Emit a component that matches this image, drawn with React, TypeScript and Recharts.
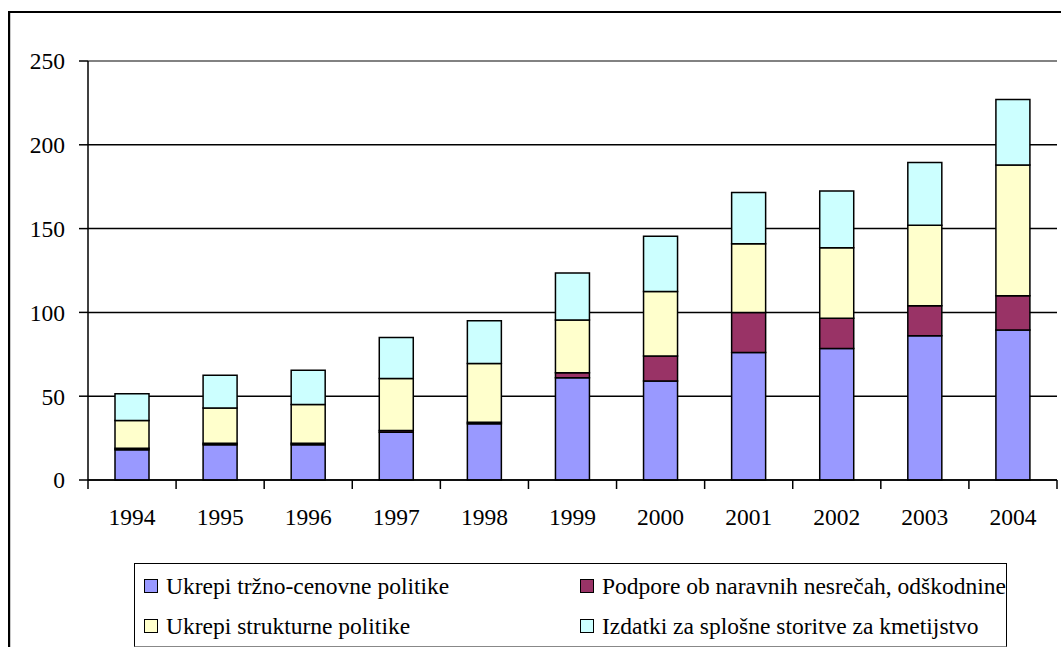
import React from "react";
import { BarChart, Bar, XAxis, YAxis, CartesianGrid, Legend, ReferenceLine } from "recharts";

const years = ["1994", "1995", "1996", "1997", "1998", "1999", "2000", "2001", "2002", "2003", "2004"];
const trznoCenovne = [18, 21, 21, 28.5, 33.5, 61, 59, 76, 78.5, 86, 89.5];
const podpore = [1, 1, 1, 1, 1, 3, 15, 24, 18, 18, 20.5];
const strukturne = [16.5, 21, 23, 31, 35, 31.5, 38.5, 41, 42, 48, 78];
const izdatki = [16, 19.5, 20.5, 24.5, 25.5, 28, 33, 30.5, 34, 37.5, 39];
const yTicks = [0, 50, 100, 150, 200, 250];

const seriesNames = {
  a: "Ukrepi tržno-cenovne politike",
  b: "Podpore ob naravnih nesrečah, odškodnine",
  c: "Ukrepi strukturne politike",
  d: "Izdatki za splošne storitve za kmetijstvo",
};
const seriesColors = { a: "#9999FF", b: "#993366", c: "#FFFFCC", d: "#CCFFFF" };
const seriesOrder = ["a", "b", "c", "d"];

const data = years.map((y, i) => ({
  year: y,
  a: trznoCenovne[i],
  b: podpore[i],
  c: strukturne[i],
  d: izdatki[i],
}));

const FONT = '"Liberation Serif", "Times New Roman", serif';
const CHART_W = 1061;
const MARGIN = { top: 61, right: 4, left: 8, bottom: 0 };
const Y_W = 80;
const FALLBACK_HALF_BAND = (CHART_W - MARGIN.left - MARGIN.right - Y_W) / years.length / 2;

const XTick = (props: any) => {
  const { x, y, payload, index } = props;
  const half =
    payload && typeof payload.offset === "number" && payload.offset > 0 ? payload.offset : FALLBACK_HALF_BAND;
  const isLast = index === years.length - 1;
  return (
    <g>
      <line x1={x - half} x2={x - half} y1={y} y2={y + 9} stroke="#000" strokeWidth={1.5} />
      {isLast && <line x1={x + half} x2={x + half} y1={y} y2={y + 9} stroke="#000" strokeWidth={1.5} />}
      <text
        x={x}
        y={y + 37}
        textAnchor="middle"
        dominantBaseline="central"
        fontFamily={FONT}
        fontSize={23.5}
        fill="#000"
      >
        {payload.value}
      </text>
    </g>
  );
};

const LegendBox = (props: any) => {
  const payload = (props.payload || []).slice().sort(
    (p: any, q: any) => seriesOrder.indexOf(p.dataKey) - seriesOrder.indexOf(q.dataKey)
  );
  const colLeft = [9, 445];
  const rowTop = [22, 62];
  return (
    <div
      style={{
        position: "relative",
        width: 873,
        height: 84,
        boxSizing: "border-box",
        border: "1px solid #000",
        borderBottomColor: "#888",
        background: "#fff",
        fontFamily: FONT,
        fontSize: 23.5,
        color: "#000",
      }}
    >
      {payload.map((p: any, i: number) => {
        const col = i % 2;
        const row = Math.floor(i / 2);
        return (
          <div
            key={p.dataKey}
            style={{
              position: "absolute",
              left: colLeft[col],
              top: rowTop[row] - 15,
              height: 30,
              display: "flex",
              alignItems: "center",
              whiteSpace: "nowrap",
            }}
          >
            <span
              style={{
                display: "inline-block",
                width: 14,
                height: 14,
                boxSizing: "border-box",
                border: "1px solid #000",
                background: seriesColors[p.dataKey as keyof typeof seriesColors],
                marginRight: 8,
              }}
            />
            <span>{p.value}</span>
          </div>
        );
      })}
    </div>
  );
};

export default function App() {
  return (
    <div>
      <style>{`html,body{overflow:hidden;}`}</style>
      <div
        style={{
          position: "absolute",
          left: 8,
          top: 11,
          width: 1053,
          height: 636,
          boxSizing: "border-box",
          borderTop: "2px solid #000",
          borderLeft: "2px solid #000",
          boxShadow: "inset 1px 0 0 #c8c8c8",
          background: "#fff",
        }}
      />
      <div style={{ position: "absolute", left: 0, top: 0 }}>
        <BarChart width={CHART_W} height={647} data={data} margin={MARGIN} barSize={34}>
          <CartesianGrid vertical={false} stroke="#000" strokeWidth={1.5} />
          <XAxis
            dataKey="year"
            interval={0}
            tick={<XTick />}
            tickLine={false}
            tickSize={0}
            tickMargin={0}
            axisLine={{ stroke: "#000", strokeWidth: 1.5 }}
            height={83}
          />
          <YAxis
            domain={[0, 250]}
            ticks={yTicks}
            interval={0}
            width={Y_W}
            tickSize={9}
            tickMargin={14}
            tickLine={{ stroke: "#000", strokeWidth: 1.5 }}
            axisLine={{ stroke: "#000", strokeWidth: 1.5 }}
            tick={{ fontFamily: FONT, fontSize: 23.5, fill: "#000" }}
          />
          <YAxis
            yAxisId="r"
            orientation="right"
            domain={[0, 250]}
            ticks={yTicks}
            width={0}
            tick={false}
            tickLine={false}
            axisLine={{ stroke: "#999", strokeWidth: 1.5 }}
          />
          <ReferenceLine y={250} stroke="#999" strokeWidth={1.5} />
          {seriesOrder.map((k) => (
            <Bar
              key={k}
              dataKey={k}
              name={seriesNames[k as keyof typeof seriesNames]}
              stackId="s"
              fill={seriesColors[k as keyof typeof seriesColors]}
              stroke="#000"
              strokeWidth={1.5}
              isAnimationActive={false}
            />
          ))}
          <Legend
            verticalAlign="bottom"
            content={<LegendBox />}
            wrapperStyle={{ left: 134, top: 563, bottom: "auto", width: 873, height: 84 }}
          />
        </BarChart>
      </div>
    </div>
  );
}
